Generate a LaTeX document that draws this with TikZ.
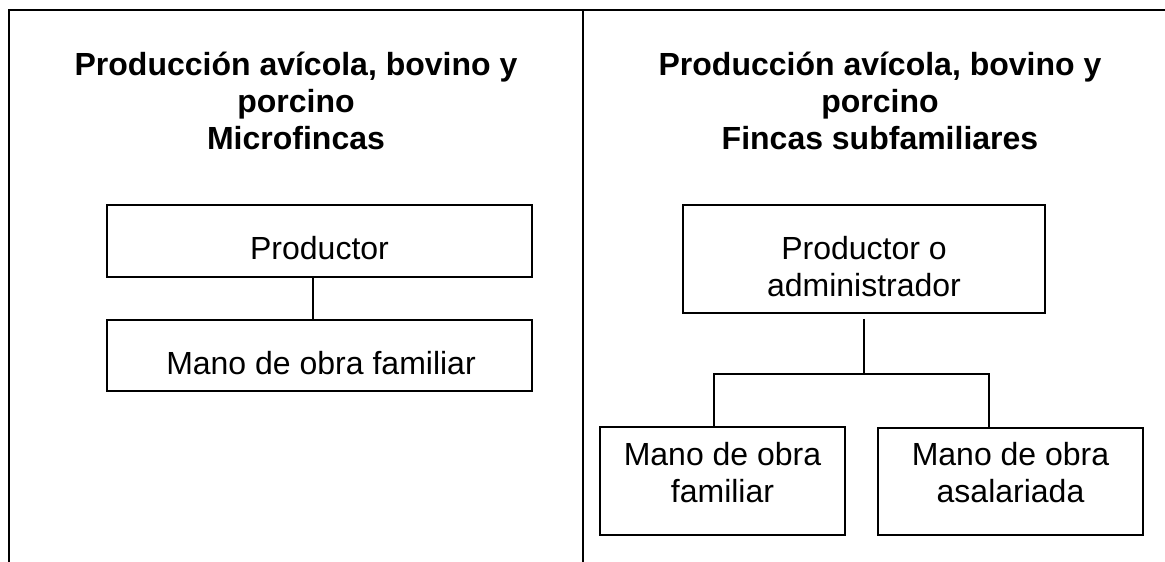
\documentclass[tikz,border=0pt]{standalone}
\usepackage{fontspec}
\setmainfont{Liberation Sans}
\begin{document}
\begin{tikzpicture}[x=1pt,y=-1pt,
  line width=1.9pt,
  frame/.style={line width=1.7pt},
  box/.style={draw, rectangle, inner sep=0pt},
  lbl/.style={inner sep=0pt, align=center, anchor=south, font=\fontsize{32}{37}\selectfont},
  ttl/.style={inner sep=0pt, align=center, anchor=south, font=\fontsize{32}{37}\selectfont\bfseries},
  conn/.style={line width=1.7pt}]
\useasboundingbox (0,0) rectangle (1165,562);
% frame
\draw[frame] (9,562) -- (9,10) -- (1165,10);
\draw[frame] (583,10) -- (583,562);
% titles
\node[ttl] (t1) at (296,151) {Producción avícola, bovino y\\porcino\\Microfincas};
\node[ttl] (t2) at (880,151) {Producción avícola, bovino y\\porcino\\Fincas subfamiliares};
% left boxes
\node[box, minimum width=425pt, minimum height=72pt] (p1) at (319.5,241) {};
\node[box, minimum width=425pt, minimum height=71pt] (m1) at (319.5,355.5) {};
\node[lbl] (p1t) at (319.5,261) {Productor};
\node[lbl] (m1t) at (321,376) {Mano de obra familiar};
\draw[conn] ([xshift=-6.5pt]p1.south) -- ([xshift=-6.5pt]m1.north);
% right boxes
\node[box, minimum width=362pt, minimum height=108pt] (p2) at (864,259) {};
\node[box, minimum width=245pt, minimum height=108pt] (m2) at (722.5,481) {};
\node[box, minimum width=265pt, minimum height=107pt] (a2) at (1010.5,481.5) {};
\node[lbl] (p2t) at (864,298) {Productor o\\administrador};
\node[lbl] (m2t) at (722.5,504) {Mano de obra\\familiar};
\node[lbl] (a2t) at (1010.5,504) {Mano de obra\\asalariada};
\coordinate (j) at (864,374);
\draw[conn, shorten <=5pt] (p2.south) -- (j);
\draw[conn] ([xshift=-8.5pt]m2.north) |- (j) -| ([xshift=-21.5pt]a2.north);
\end{tikzpicture}
\end{document}
